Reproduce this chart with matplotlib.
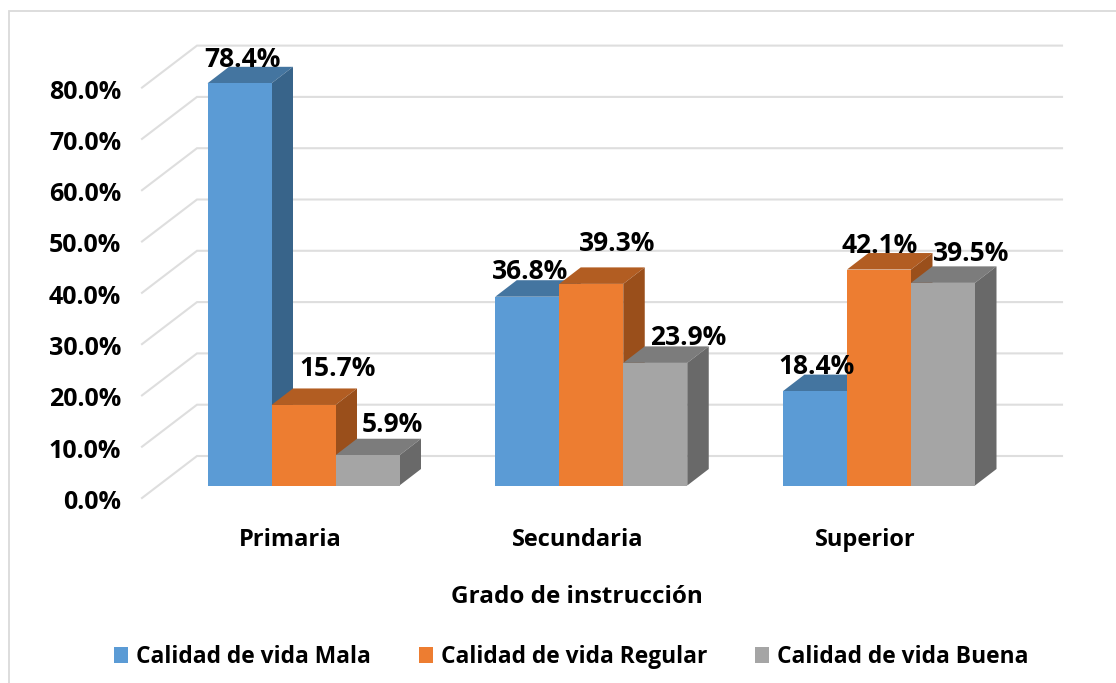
import matplotlib
matplotlib.use("Agg")
import matplotlib.pyplot as plt
from matplotlib.patches import Polygon, Patch

plt.rcParams['font.family'] = ['Open Sans', 'DejaVu Sans']

categories = ["Primaria", "Secundaria", "Superior"]
series_names = ["Calidad de vida Mala", "Calidad de vida Regular", "Calidad de vida Buena"]
mala = [78.4, 36.8, 18.4]
regular = [15.7, 39.3, 42.1]
buena = [5.9, 23.9, 39.5]
y_ticks = [0, 10, 20, 30, 40, 50, 60, 70, 80]
x_title = "Grado de instrucción"

W, H = 1116, 683
PX_PER_CAT = 287.75
PX_PER_PCT = 5.13
X0_PX = 303.5
Y0_PX = 485.5

front_colors = ["#5B9BD5", "#ED7D31", "#A5A5A5"]
top_colors = ["#4475A0", "#B25D22", "#7C7C7C"]
side_colors = ["#38648A", "#9A4F1B", "#696969"]
# label offsets from the front-top centre of each bar, pixels (right, up)
label_offsets = [
    [(3, 24), (2.5, 25), (2, 25)],
    [(34.5, 36), (26, 40), (1, 24.5)],
    [(25, 31), (33, 25), (28, 29)],
]

fig = plt.figure(figsize=(W / 100, H / 100), dpi=100)
ax = fig.add_axes([0, 0, 1, 1])
ax.set_xlim(-X0_PX / PX_PER_CAT, (W - X0_PX) / PX_PER_CAT)
ax.set_ylim((Y0_PX - H) / PX_PER_PCT, Y0_PX / PX_PER_PCT)
ax.axis("off")


def dx(px):
    return px / PX_PER_CAT


def dy(px):
    return px / PX_PER_PCT


def xp(px):
    return (px - X0_PX) / PX_PER_CAT


# outer frame: only the top and left edges, running to the image edges
ax.plot([xp(8.5), xp(8.5), xp(W)], [dy(Y0_PX - H), dy(Y0_PX - 10.5), dy(Y0_PX - 10.5)],
        color="#DADADA", lw=1.3, zorder=0, solid_joinstyle="miter")

# gridlines: side wall then back wall
for v in y_ticks:
    ax.plot([xp(142), xp(197), xp(1062)],
            [v + dy(-12.5), v + dy(29.5), v + dy(29.5)],
            color="#DEDEDE", lw=1.5, zorder=1, solid_joinstyle="miter")

# bars
bar_w = dx(64)
depth_x = dx(21.5)
depth_y = dy(16.5)
series = [mala, regular, buena]
z = 2
for g in range(len(categories)):
    for s, vals in enumerate(series):
        v = vals[g]
        left = g + (s - 1.5) * bar_w
        right = left + bar_w
        ax.add_patch(Polygon([(left, v), (right, v), (right + depth_x, v + depth_y),
                              (left + depth_x, v + depth_y)],
                             closed=True, fc=top_colors[s], ec="none", zorder=z))
        ax.add_patch(Polygon([(right, 0), (right + depth_x, depth_y),
                              (right + depth_x, v + depth_y), (right, v)],
                             closed=True, fc=side_colors[s], ec="none", zorder=z))
        ax.bar(left, v, width=bar_w, align="edge", color=front_colors[s], zorder=z)
        z += 1

# data labels
for s, vals in enumerate(series):
    for g, v in enumerate(vals):
        left = g + (s - 1.5) * bar_w
        ox, oy = label_offsets[s][g]
        ax.annotate(f"{v:.1f}%", (left + bar_w / 2, v), xytext=(ox, oy),
                    textcoords="offset pixels", ha="center", va="center",
                    fontsize=19, fontweight="bold", color="black", zorder=50)

# tick labels
for v in y_ticks:
    ax.text(xp(121), v + dy(-14), f"{v:.1f}%", ha="right", va="center_baseline",
            fontsize=18, fontweight="bold", color="black")

# category labels
for g, c in enumerate(categories):
    ax.text(g + dx(-13.5), dy(Y0_PX - 540), c, ha="center", va="center",
            fontsize=17, fontweight="bold", color="black")

ax.text(xp(577), dy(Y0_PX - 597), x_title, ha="center", va="center",
        fontsize=17.5, fontweight="bold", color="black")

handles = [Patch(facecolor=c, label=n) for c, n in zip(front_colors, series_names)]
fig.legend(handles=handles, loc="center", bbox_to_anchor=(571.5 / W, 1 - 657 / H), ncol=3,
           frameon=False, prop={"size": 16.4, "weight": "bold"},
           handlelength=0.61, handleheight=0.7, handletextpad=0.35, columnspacing=2.1,
           borderpad=0, borderaxespad=0)

fig.savefig("out.png", dpi=100)
